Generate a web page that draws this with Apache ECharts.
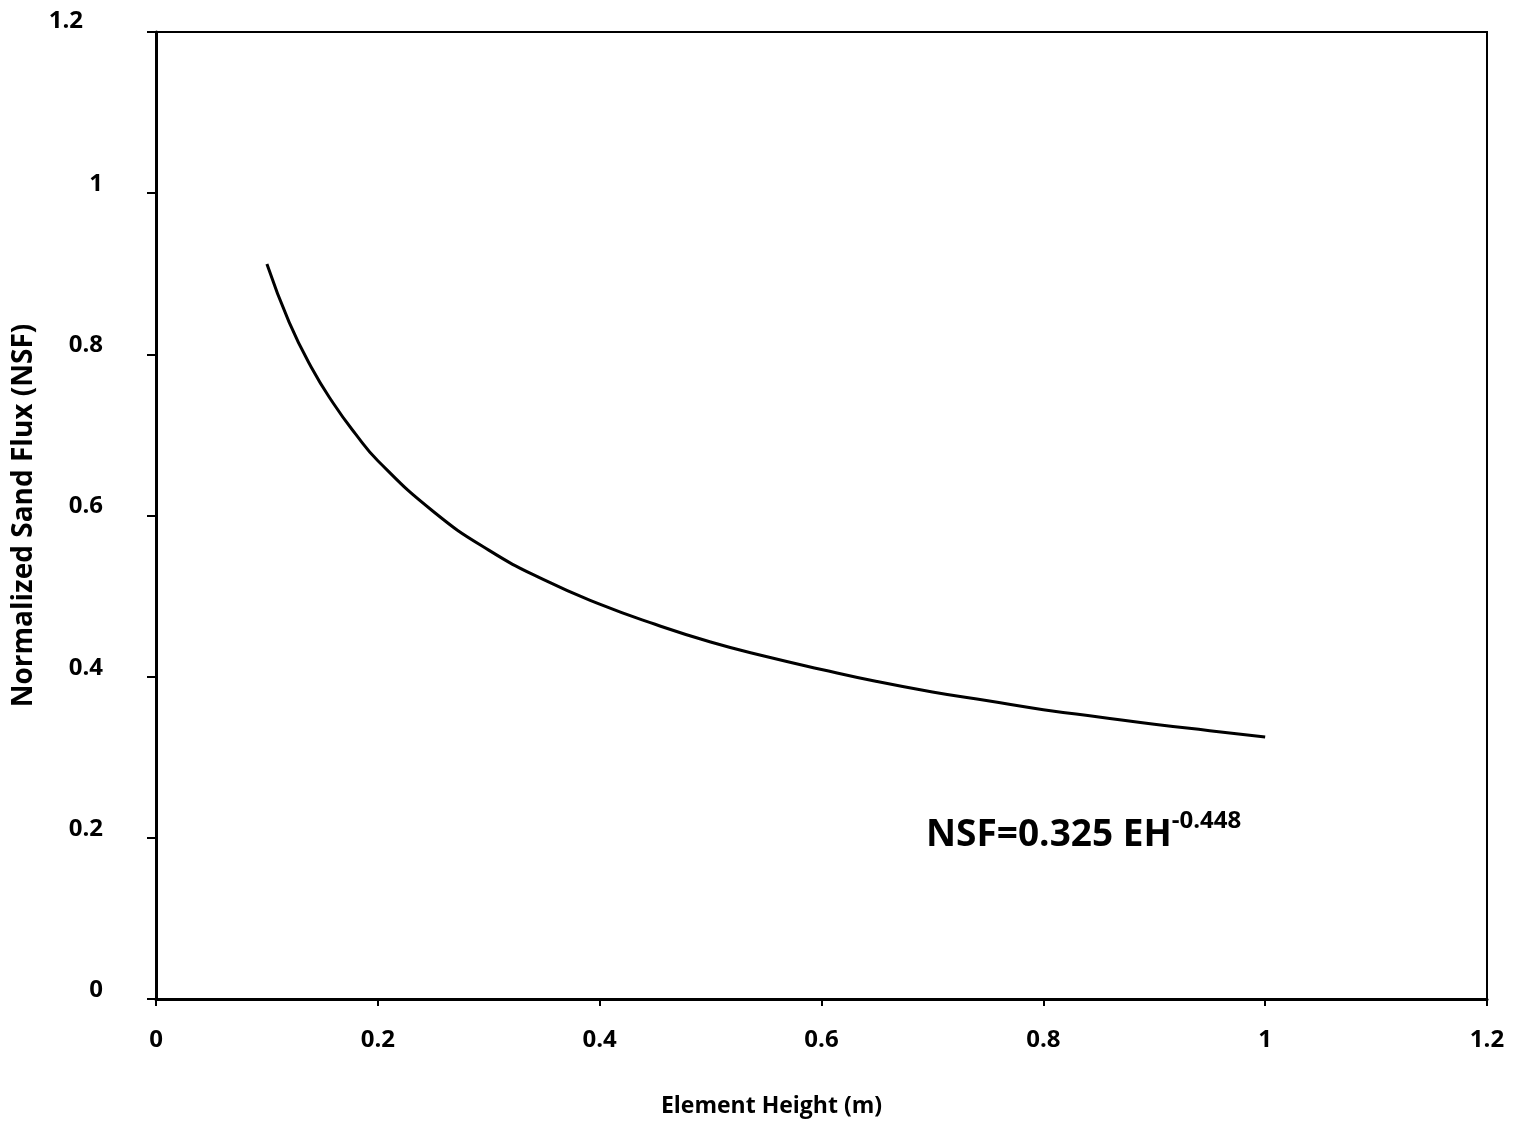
<!DOCTYPE html>
<html>
<head>
<meta charset="utf-8">
<script src="https://cdn.jsdelivr.net/npm/echarts@6/dist/echarts.min.js"></script>
<style>
html,body{margin:0;padding:0;background:#fff;}
#chart{width:1513px;height:1123px;}
</style>
</head>
<body>
<div id="chart"></div>
<script>
// Values
const elementHeight = [0.10, 0.12, 0.14, 0.16, 0.18, 0.20, 0.25, 0.30, 0.35, 0.40, 0.45, 0.50, 0.55, 0.60, 0.65, 0.70, 0.75, 0.80, 0.85, 0.90, 0.95, 1.00];
const nsf = [0.912, 0.840, 0.784, 0.739, 0.701, 0.668, 0.605, 0.557, 0.520, 0.490, 0.465, 0.443, 0.425, 0.409, 0.394, 0.381, 0.370, 0.359, 0.350, 0.341, 0.333, 0.325];
const xTicks = [0, 0.2, 0.4, 0.6, 0.8, 1, 1.2];
const yTicks = [0, 0.2, 0.4, 0.6, 0.8, 1, 1.2];
const xTitle = 'Element Height (m)';
const yTitle = 'Normalized Sand Flux (NSF)';
const eqMain = 'NSF=0.325 EH';
const eqExp = '-0.448';

const FONT = '"Open Sans"';
const chart = echarts.init(document.getElementById('chart'));
const data = elementHeight.map((x, i) => [x, nsf[i]]);
const findTick = (arr, v) => arr.find(k => Math.abs(k - v) < 1e-9);

chart.setOption({
  backgroundColor: '#fff',
  animation: false,
  grid: {left: 156, top: 32, right: 26, bottom: 124, show: true, borderColor: '#000', borderWidth: 2, backgroundColor: 'transparent'},
  xAxis: {
    type: 'value', min: 0, max: 1.2, interval: 0.2,
    name: xTitle, nameLocation: 'middle', nameGap: 96,
    nameTextStyle: {fontFamily: FONT, fontWeight: 'bold', fontSize: 23, color: '#000', padding: [0, 100, 0, 0]},
    axisLine: {show: true, lineStyle: {color: '#000', width: 3}},
    axisTick: {show: true, inside: false, length: 7, lineStyle: {color: '#000', width: 2}},
    axisLabel: {fontFamily: FONT, fontWeight: 'bold', fontSize: 24, color: '#000', margin: 29,
      formatter: v => { const t = findTick(xTicks, v); return t === undefined ? '' : String(t); }},
    splitLine: {show: false}
  },
  yAxis: {
    type: 'value', min: 0, max: 1.2, interval: 0.2,
    name: yTitle, nameLocation: 'middle', nameGap: 114, nameRotate: 90,
    nameTextStyle: {fontFamily: FONT, fontWeight: 'bold', fontSize: 28, color: '#000'},
    axisLine: {show: true, lineStyle: {color: '#000', width: 3}},
    axisTick: {show: true, inside: false, length: 9, lineStyle: {color: '#000', width: 2}},
    axisLabel: {fontFamily: FONT, fontWeight: 'bold', fontSize: 24, color: '#000', margin: 53,
      verticalAlign: 'bottom', lineHeight: 18,
      formatter: v => {
        const t = findTick(yTicks, v);
        if (t === undefined) return '';
        return t === 1.2 ? '{top|' + t + '}' : String(t);
      },
      rich: {top: {fontFamily: FONT, fontWeight: 'bold', fontSize: 24, color: '#000', lineHeight: 18, padding: [0, 20, 3, 0]}}
    },
    splitLine: {show: false}
  },
  series: [{
    type: 'line', data: data, smooth: true, symbol: 'none',
    lineStyle: {color: '#000', width: 3}
  }],
  graphic: [{
    type: 'text', left: 926, top: 809,
    style: {
      text: '{m|' + eqMain + '}{s|' + eqExp + '}',
      rich: {
        m: {fontFamily: FONT, fontWeight: 'bold', fontSize: 37, fill: '#000', verticalAlign: 'bottom'},
        s: {fontFamily: FONT, fontWeight: 'bold', fontSize: 24, fill: '#000', padding: [0, 0, 21, 0], verticalAlign: 'bottom'}
      }
    }
  }]
});
</script>
</body>
</html>
